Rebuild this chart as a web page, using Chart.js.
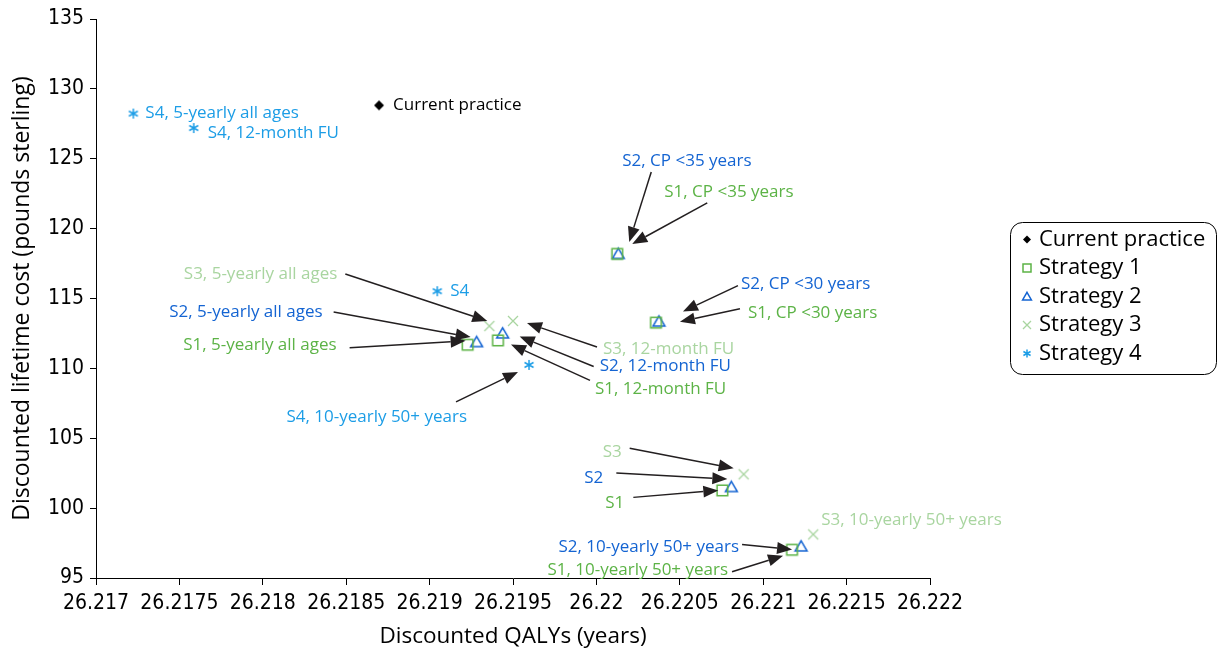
<!DOCTYPE html>
<html>
<head>
<meta charset="utf-8">
<script src="https://cdn.jsdelivr.net/npm/chart.js@4.4.1/dist/chart.umd.min.js"></script>
<style>
  html, body { margin: 0; padding: 0; background: #fff; }
  #wrap { width: 1218px; height: 651px; position: relative; }
</style>
</head>
<body>
<div id="wrap"><canvas id="c" width="1218" height="651"></canvas></div>
<script>
// Scenario names for strategies 1 and 2 (strategies 3 and 4 use a subset)
const s12Scenarios = ['5-yearly all ages', '12-month FU', 'CP <35 years', 'CP <30 years', 'Base case', '10-yearly 50+ years'];
const s34Scenarios = ['5-yearly all ages', '12-month FU', 'Base case', '10-yearly 50+ years'];

// Discounted QALYs (years) and discounted lifetime cost (pounds sterling)
const currentQaly = [26.218697];
const currentCost = [128.82];

const s1Qaly = [26.219228, 26.219410, 26.220125, 26.220357, 26.220755, 26.221173];
const s1Cost = [111.69, 112.00, 118.19, 113.27, 101.27, 97.02];

const s2Qaly = [26.219282, 26.219438, 26.220131, 26.220375, 26.220809, 26.221227];
const s2Cost = [111.88, 112.50, 118.19, 113.35, 101.51, 97.26];

const s3Qaly = [26.219358, 26.219500, 26.220883, 26.221300];
const s3Cost = [113.03, 113.39, 102.42, 98.12];

const s4Qaly = [26.217224, 26.217586, 26.219046, 26.219596];
const s4Cost = [128.23, 127.20, 115.52, 110.25];

const seriesNames = ['Current practice', 'Strategy 1', 'Strategy 2', 'Strategy 3', 'Strategy 4'];

const xTickLabels = ['26.217', '26.2175', '26.218', '26.2185', '26.219', '26.2195', '26.22', '26.2205', '26.221', '26.2215', '26.222'];
const yTickLabels = ['95', '100', '105', '110', '115', '120', '125', '130', '135'];

// Look of each series
const seriesColors = ['#000000', '#5cb346', '#1464d2', '#a9d5a0', '#1c9de6'];
const seriesMarkers = ['diamond', 'square', 'triangle', 'cross', 'asterisk'];

// Callout labels: dataset, point, text, and pixel offsets (from the point) of
// the text anchor, arrow tail and arrow head
const callouts = [
  { ds: 4, i: 0, text: 'S4, 5-yearly all ages', align: 'left', t: [12, 0] },
  { ds: 4, i: 1, text: 'S4, 12-month FU', align: 'left', t: [14, 5] },
  { ds: 0, i: 0, text: 'Current practice', align: 'left', t: [14, 0] },
  { ds: 4, i: 2, text: 'S4', align: 'left', t: [13, 0] },
  { ds: 4, i: 3, text: 'S4, 10-yearly 50+ years', align: 'right', t: [-62, 52], a: [-73, 37], h: [-11, 7] },
  { ds: 3, i: 0, text: 'S3, 5-yearly all ages', align: 'right', t: [-152, -52], a: [-144, -52], h: [-2, -5] },
  { ds: 2, i: 0, text: 'S2, 5-yearly all ages', align: 'right', t: [-154, -30], a: [-143, -30], h: [-6, -5] },
  { ds: 1, i: 0, text: 'S1, 5-yearly all ages', align: 'right', t: [-131, 0], a: [-118, 3], h: [-2, -4] },
  { ds: 3, i: 1, text: 'S3, 12-month FU', align: 'left', t: [90, 28], a: [84, 26], h: [14, 2] },
  { ds: 2, i: 1, text: 'S2, 12-month FU', align: 'left', t: [97, 33], a: [91, 33], h: [17, 3] },
  { ds: 1, i: 1, text: 'S1, 12-month FU', align: 'left', t: [97, 49], a: [92, 40], h: [13, 4] },
  { ds: 2, i: 2, text: 'S2, CP <35 years', align: 'left', t: [4, -93], a: [33, -82], h: [11, -12] },
  { ds: 1, i: 2, text: 'S1, CP <35 years', align: 'left', t: [47, -62], a: [90, -51], h: [15, -10] },
  { ds: 2, i: 3, text: 'S2, CP <30 years', align: 'left', t: [82, -37], a: [79, -36], h: [24, -10] },
  { ds: 1, i: 3, text: 'S1, CP <30 years', align: 'left', t: [92, -10], a: [84, -14], h: [24, -1] },
  { ds: 3, i: 2, text: 'S3', align: 'right', t: [-122, -22], a: [-114, -26], h: [-10, -6] },
  { ds: 2, i: 4, text: 'S2', align: 'right', t: [-128, -9], a: [-115, -14], h: [-4, -8] },
  { ds: 1, i: 4, text: 'S1', align: 'right', t: [-98, 13], a: [-89, 7], h: [-4, 0] },
  { ds: 3, i: 3, text: 'S3, 10-yearly 50+ years', align: 'left', t: [8, -14] },
  { ds: 2, i: 5, text: 'S2, 10-yearly 50+ years', align: 'right', t: [-62, 1], a: [-59, -2], h: [-9, 3] },
  { ds: 1, i: 5, text: 'S1, 10-yearly 50+ years', align: 'right', t: [-64, 20], a: [-60, 22], h: [-9, 6] }
];

const FONT = '"Open Sans", "DejaVu Sans", sans-serif';
const TICK_FONT = '"DejaVu Sans Condensed", "DejaVu Sans", sans-serif';

// Draws one marker shape centred on (x, y); s is the half-size
function drawMarker(ctx, kind, color, x, y, s) {
  ctx.save();
  ctx.strokeStyle = color;
  ctx.fillStyle = color;
  ctx.lineWidth = 1.5;
  ctx.beginPath();
  if (kind === 'diamond') {
    ctx.moveTo(x, y - s); ctx.lineTo(x + s, y); ctx.lineTo(x, y + s); ctx.lineTo(x - s, y);
    ctx.closePath(); ctx.fill();
  } else if (kind === 'square') {
    ctx.rect(x - s, y - s, 2 * s, 2 * s); ctx.stroke();
  } else if (kind === 'triangle') {
    ctx.moveTo(x, y - s * 1.05); ctx.lineTo(x + s * 1.1, y + s * 0.85); ctx.lineTo(x - s * 1.1, y + s * 0.85);
    ctx.closePath(); ctx.stroke();
  } else if (kind === 'cross') {
    ctx.lineWidth = 1.3;
    ctx.moveTo(x - s, y - s); ctx.lineTo(x + s, y + s);
    ctx.moveTo(x + s, y - s); ctx.lineTo(x - s, y + s); ctx.stroke();
  } else if (kind === 'asterisk') {
    ctx.moveTo(x, y - s); ctx.lineTo(x, y + s);
    ctx.moveTo(x - s * 0.9, y - s * 0.5); ctx.lineTo(x + s * 0.9, y + s * 0.5);
    ctx.moveTo(x - s * 0.9, y + s * 0.5); ctx.lineTo(x + s * 0.9, y - s * 0.5); ctx.stroke();
  }
  ctx.restore();
}

// Small canvases used as Chart.js point styles
function markerImage(kind, color, s) {
  const size = Math.ceil(2 * s + 6);
  const cv = document.createElement('canvas');
  cv.width = size; cv.height = size;
  drawMarker(cv.getContext('2d'), kind, color, size / 2, size / 2, s);
  return cv;
}

const markerSizes = { diamond: 5, square: 5.3, triangle: 5.4, cross: 5, asterisk: 5 };

function dataset(idx, xs, ys) {
  const kind = seriesMarkers[idx];
  return {
    label: seriesNames[idx],
    data: xs.map((x, k) => ({ x: x, y: ys[k] })),
    pointStyle: markerImage(kind, seriesColors[idx], markerSizes[kind]),
    pointRadius: 6,
    showLine: false
  };
}

function drawArrow(ctx, x1, y1, x2, y2) {
  const ang = Math.atan2(y2 - y1, x2 - x1);
  const len = 15, half = 6;
  const bx = x2 - len * Math.cos(ang), by = y2 - len * Math.sin(ang);
  ctx.save();
  ctx.strokeStyle = '#231f20';
  ctx.fillStyle = '#231f20';
  ctx.lineWidth = 1.5;
  ctx.beginPath();
  ctx.moveTo(x1, y1); ctx.lineTo(bx, by); ctx.stroke();
  ctx.beginPath();
  ctx.moveTo(x2, y2);
  ctx.lineTo(bx + half * Math.sin(ang), by - half * Math.cos(ang));
  ctx.lineTo(bx - half * Math.sin(ang), by + half * Math.cos(ang));
  ctx.closePath(); ctx.fill();
  ctx.restore();
}

// Text labels with arrows pointing at the scenario markers
const calloutPlugin = {
  id: 'callouts',
  afterDatasetsDraw(chart) {
    const ctx = chart.ctx;
    callouts.forEach(c => {
      const el = chart.getDatasetMeta(c.ds).data[c.i];
      const px = el.x, py = el.y;
      if (c.a) drawArrow(ctx, px + c.a[0], py + c.a[1], px + c.h[0], py + c.h[1]);
      ctx.save();
      ctx.font = '17px ' + FONT;
      ctx.fillStyle = seriesColors[c.ds];
      ctx.textAlign = c.align;
      ctx.textBaseline = 'middle';
      ctx.fillText(c.text, px + c.t[0], py + c.t[1]);
      ctx.restore();
    });
  }
};

// Rounded legend box to the right of the plot
const legendPlugin = {
  id: 'boxLegend',
  afterDraw(chart) {
    const ctx = chart.ctx;
    const x = 1010.5, y = 222.5, w = 206, h = 152, r = 12;
    ctx.save();
    ctx.beginPath();
    ctx.moveTo(x + r, y);
    ctx.arcTo(x + w, y, x + w, y + h, r);
    ctx.arcTo(x + w, y + h, x, y + h, r);
    ctx.arcTo(x, y + h, x, y, r);
    ctx.arcTo(x, y, x + w, y, r);
    ctx.closePath();
    ctx.strokeStyle = '#000';
    ctx.lineWidth = 1;
    ctx.stroke();
    chart.data.datasets.forEach((d, k) => {
      const cy = 239.5 + k * 28.5;
      drawMarker(ctx, seriesMarkers[k], seriesColors[k], 1027, cy, 4);
      ctx.font = '22px ' + FONT;
      ctx.fillStyle = '#000';
      ctx.textAlign = 'left';
      ctx.textBaseline = 'middle';
      ctx.fillText(d.label, 1039, cy);
    });
    ctx.restore();
  }
};

function build() {
  new Chart(document.getElementById('c'), {
    type: 'scatter',
    data: {
      datasets: [
        dataset(0, currentQaly, currentCost),
        dataset(1, s1Qaly, s1Cost),
        dataset(2, s2Qaly, s2Cost),
        dataset(3, s3Qaly, s3Cost),
        dataset(4, s4Qaly, s4Cost)
      ]
    },
    options: {
      responsive: false,
      animation: false,
      events: [],
      layout: { padding: { left: 0, right: 288, top: 19, bottom: 0 } },
      plugins: { legend: { display: false }, tooltip: { enabled: false } },
      scales: {
        x: {
          type: 'linear',
          min: parseFloat(xTickLabels[0]),
          max: parseFloat(xTickLabels[xTickLabels.length - 1]),
          afterBuildTicks: s => { s.ticks = xTickLabels.map(v => ({ value: parseFloat(v) })); },
          afterFit: s => { s.height = 73; },
          ticks: {
            callback: (v, i) => xTickLabels[i],
            color: '#000', font: { family: TICK_FONT, size: 21 },
            maxRotation: 0, autoSkip: false, padding: 6
          },
          grid: { drawOnChartArea: false, drawTicks: true, tickLength: 7, color: '#000' },
          border: { color: '#000', width: 1 },
          title: {
            display: true, text: 'Discounted QALYs (years)', color: '#000',
            font: { family: FONT, size: 22.5 }, padding: { top: 0, bottom: 1 }
          }
        },
        y: {
          type: 'linear',
          min: parseFloat(yTickLabels[0]),
          max: parseFloat(yTickLabels[yTickLabels.length - 1]),
          afterBuildTicks: s => { s.ticks = yTickLabels.map(v => ({ value: parseFloat(v) })); },
          afterFit: s => { s.width = 96; },
          ticks: {
            callback: (v, i) => yTickLabels[i],
            color: '#000', font: { family: TICK_FONT, size: 21 }, padding: 6
          },
          grid: { drawOnChartArea: false, drawTicks: true, tickLength: 6, color: '#000' },
          border: { color: '#000', width: 1 },
          title: {
            display: true, text: 'Discounted lifetime cost (pounds sterling)', color: '#000',
            font: { family: FONT, size: 23 }, padding: { top: 9, bottom: 0 }
          }
        }
      }
    },
    plugins: [calloutPlugin, legendPlugin]
  });
}

if (document.fonts && document.fonts.load) {
  Promise.all([document.fonts.load('16px "Open Sans"'), document.fonts.load('21px "DejaVu Sans Condensed"')])
    .then(build, build);
} else {
  build();
}
</script>
</body>
</html>
